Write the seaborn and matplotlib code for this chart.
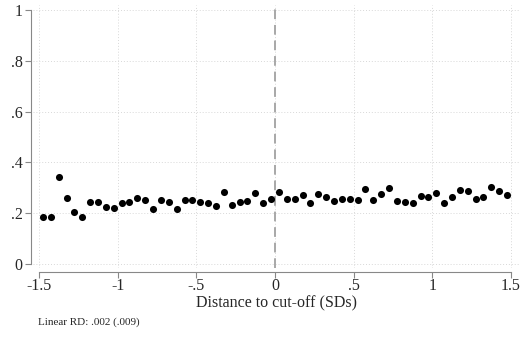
import numpy as np
import pandas as pd
import seaborn as sns
import matplotlib
matplotlib.use("Agg")
import matplotlib.pyplot as plt

# binned means, bins of 0.05 SD
bin_centers = np.round(np.arange(-1.475, 1.5, 0.05), 3)
share = [0.187, 0.187, 0.341, 0.260, 0.204, 0.187, 0.245, 0.244, 0.224, 0.220,
         0.242, 0.246, 0.261, 0.253, 0.215, 0.254, 0.245, 0.215, 0.254, 0.252,
         0.245, 0.242, 0.229, 0.285, 0.232, 0.246, 0.250, 0.281, 0.239, 0.257,
         0.282, 0.256, 0.256, 0.271, 0.241, 0.274, 0.264, 0.248, 0.256, 0.256,
         0.253, 0.294, 0.254, 0.274, 0.298, 0.249, 0.245, 0.239, 0.266, 0.262,
         0.279, 0.242, 0.264, 0.293, 0.289, 0.258, 0.264, 0.302, 0.286, 0.271]
x_ticks = [-1.5, -1, -0.5, 0, 0.5, 1, 1.5]
x_labels = ["-1.5", "-1", "-.5", "0", ".5", "1", "1.5"]
y_ticks = [0, 0.2, 0.4, 0.6, 0.8, 1]
y_labels = ["0", ".2", ".4", ".6", ".8", "1"]
note = "Linear RD: .002 (.009)"

df = pd.DataFrame({"dist": bin_centers, "share": share})

sns.set_style("white")
plt.rcParams["font.family"] = ["Liberation Serif", "DejaVu Serif"]

fig = plt.figure(figsize=(5.25, 3.42), dpi=100)
ax = fig.add_axes([33 / 525, 1 - 268 / 342, 487 / 525, 263 / 342])

ax.grid(True, linestyle=(0, (1, 2)), color="#d8d8d8", linewidth=0.7)
ax.axvline(0, color="#a8a8a8", linestyle=(0, (5, 3)), linewidth=1.4, zorder=2)
sns.scatterplot(data=df, x="dist", y="share", color="black", s=26,
                edgecolor="black", linewidth=0, ax=ax, zorder=3)

ax.set_xlim(-1.538, 1.557)
ax.set_ylim(-0.016, 1.021)
ax.set_xticks(x_ticks)
ax.set_xticklabels(x_labels)
ax.set_yticks(y_ticks)
ax.set_yticklabels(y_labels)
ax.tick_params(axis="both", bottom=True, left=True, length=4, width=0.8,
               color="#888888", labelsize=11.5, direction="out", pad=1.5)
ax.tick_params(axis="x", pad=0.5)
ax.set_xlabel("Distance to cut-off (SDs)", fontsize=11.5, labelpad=1)
ax.set_ylabel("")

for side in ["top", "right"]:
    ax.spines[side].set_visible(False)
ax.spines["left"].set_position(("outward", 1.8))
ax.spines["bottom"].set_position(("outward", 2.8))
ax.spines["left"].set_bounds(0, 1)
ax.spines["bottom"].set_bounds(-1.5, 1.5)
for side in ["left", "bottom"]:
    ax.spines[side].set_color("#888888")
    ax.spines[side].set_linewidth(0.8)

fig.text(38 / 525, 1 - 322 / 342, note, fontsize=8, va="center", ha="left")

fig.savefig("out.png", dpi=100)
